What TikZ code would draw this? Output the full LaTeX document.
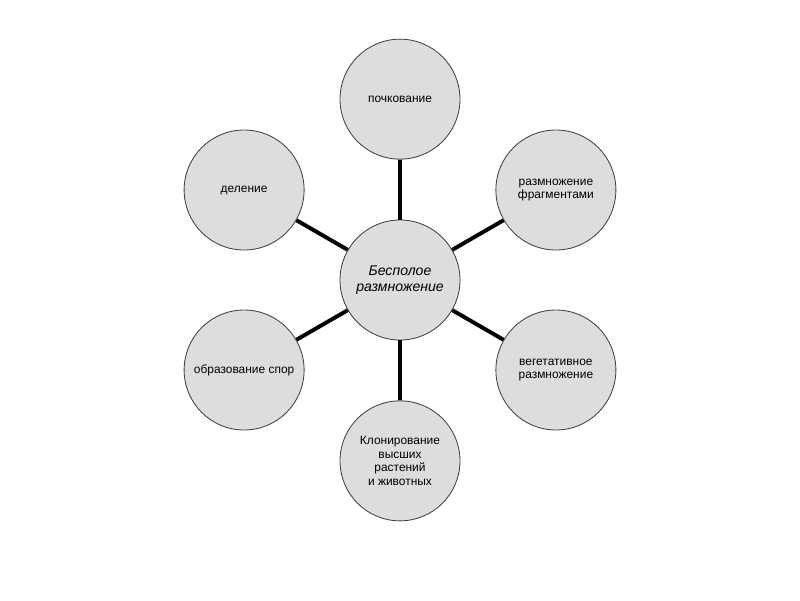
\documentclass[tikz,border=0pt]{standalone}
\usepackage{fontspec}
\setmainfont{Liberation Sans}
\usepackage{xcolor}
\usetikzlibrary{positioning}
\definecolor{discfill}{HTML}{DDDDDD}
\definecolor{discline}{HTML}{404040}

\begin{document}
\begin{tikzpicture}[
  node distance=1.5cm,
  disc/.style={circle,draw=discline,line width=0.6pt,fill=discfill,
               minimum size=3cm,inner sep=0pt,align=center,
               font=\fontsize{8.5}{9.8}\selectfont},
  hubdisc/.style={disc,font=\fontsize{10}{11.6}\selectfont\itshape},
  link/.style={line width=2.8pt,black}
]
  \useasboundingbox (0,0) rectangle (20,-15);
  \node[hubdisc] (hub) at (10,-7) {Бесполое\\размножение};
  \node[disc,above=of hub] (budding) {почкование};
  \node[disc,below=of hub] (cloning) {Клонирование\\высших\\растений\\и животных};
  \node[disc] (fragments) at ([shift={(30:4.5)}]hub) {размножение\\фрагментами};
  \node[disc] (vegetative) at ([shift={(-30:4.5)}]hub) {вегетативное\\размножение};
  \node[disc] (spores) at ([shift={(-150:4.5)}]hub) {образование спор};
  \node[disc] (division) at ([shift={(150:4.5)}]hub) {деление};
  \draw[link] (hub)--(budding);
  \draw[link] (hub)--(fragments);
  \draw[link] (hub)--(vegetative);
  \draw[link] (hub)--(cloning);
  \draw[link] (hub)--(spores);
  \draw[link] (hub)--(division);
\end{tikzpicture}
\end{document}
